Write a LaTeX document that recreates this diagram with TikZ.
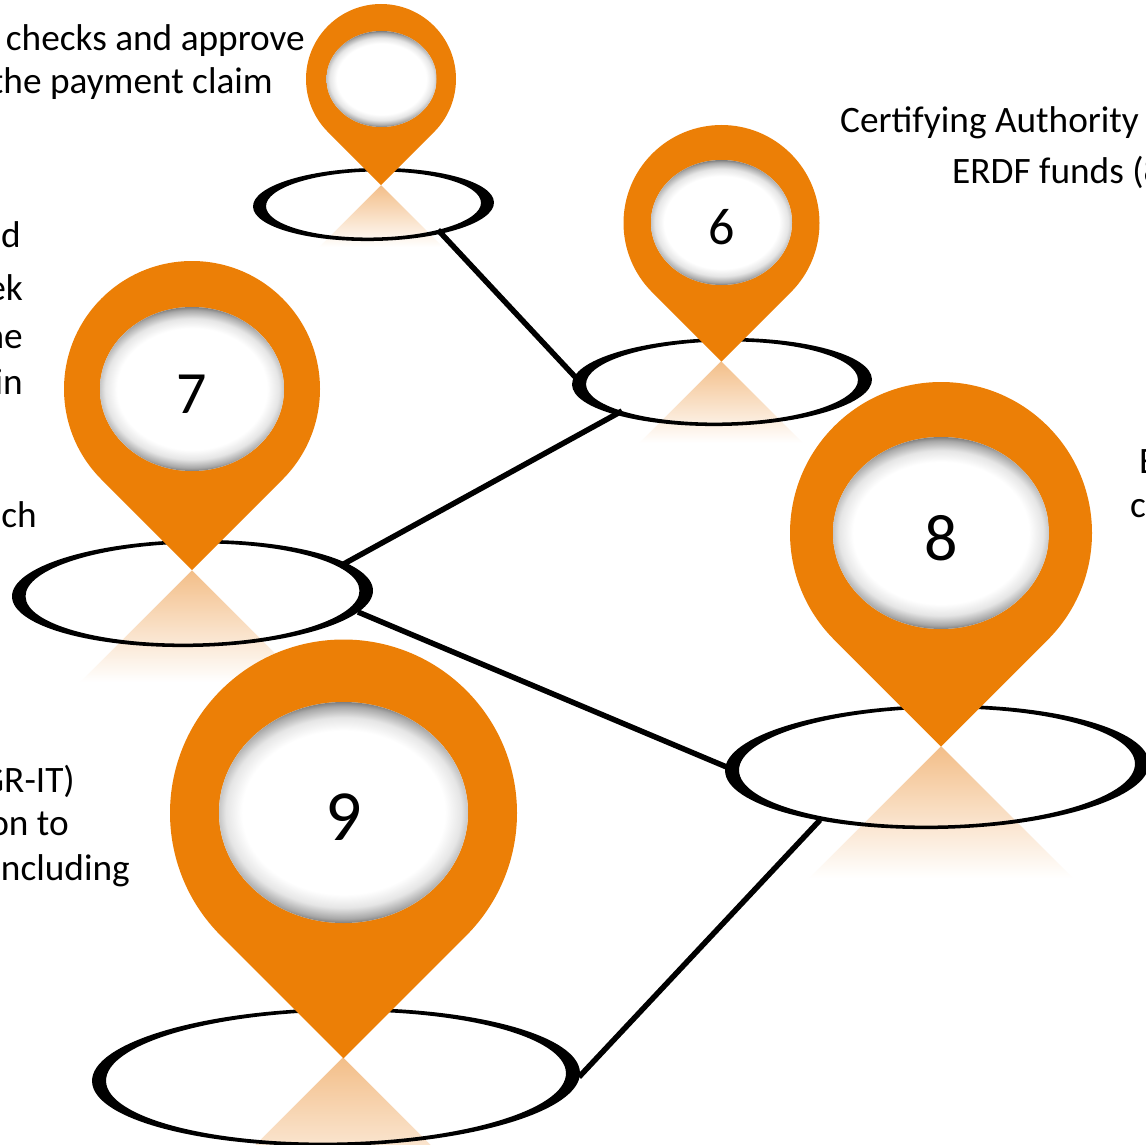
\documentclass[tikz,border=0pt]{standalone}
\usepackage{fontspec}
\setmainfont{Carlito}
\usetikzlibrary{shapes.geometric}
\definecolor{pinorange}{HTML}{EC7F06}
\definecolor{glow}{HTML}{F3BE88}
\pgfdeclareradialshading{holeshade}{\pgfpoint{0bp}{0bp}}{color(0bp)=(white); color(18.5bp)=(white); color(21.5bp)=(black!10); color(24bp)=(black!34); color(25bp)=(black!50); color(50bp)=(black!50)}
\tikzset{
  x=1pt,y=-1pt,
  caption/.style={font=\fontsize{37.3}{37.3}\selectfont,inner sep=0pt,text=black},
  link/.style={line width=5.5pt,black},
  ringbox/.style={shape=ellipse,inner sep=0pt,outer sep=0pt},
  pinnum/.style={inner sep=0pt,text=black},
}
% name, cx, cy, outer rx, ry, inner rx, ry
\newcommand{\ringmark}[7]{%
  \node[ringbox,minimum width=#4*2pt,minimum height=#5*2pt] (#1) at (#2,#3) {};
  \fill[black,even odd rule,rotate around={1:(#2,#3)}] (#2,#3) ellipse [x radius=#4pt,y radius=#5pt]
     (#2,#3) ellipse [x radius=#6pt,y radius=#7pt];
}
% tip x, tip y, height: a shaded box whose sides are masked to leave a 45-degree triangle
\newcommand{\glowmark}[3]{%
  \shade[top color=glow,bottom color=white] (#1-#3,#2) rectangle (#1+#3,#2+#3);
  \fill[white] (#1,#2) -- (#1-#3,#2+#3) -- (#1-#3-3,#2+#3) -- (#1-#3-3,#2-3) -- (#1,#2-3) -- cycle;
  \fill[white] (#1,#2) -- (#1+#3,#2+#3) -- (#1+#3+3,#2+#3) -- (#1+#3+3,#2-3) -- (#1,#2-3) -- cycle;
  \fill[white] (#1-#3-3,#2+#3-0.5) rectangle (#1+#3+3,#2+#3+3);
}
% name, cx, cy, R, hole cx, hole cy, hole rx, hole ry, number size
\newcommand{\pinmark}[9]{%
  \pgfmathsetmacro{\pinoff}{#4*0.70711}%
  \pgfmathsetmacro{\pintip}{#4*1.41421}%
  \pgfmathsetmacro{\holewide}{#7*1.1}%
  \fill[pinorange] (#2,#3+\pintip) -- (#2-\pinoff,#3+\pinoff)
     arc[start angle=225,end angle=-45,radius=#4pt] -- cycle;
  \begin{scope}
    \clip (#5,#6) ellipse [x radius=#7pt,y radius=#8pt];
    \fill[white] (#5-#7,#6-#8) rectangle (#5+#7,#6+#8);
    \shade[shading=holeshade] (#5,#6) ellipse [x radius=\holewide pt,y radius=#8pt];
  \end{scope}
  \node[pinnum,font=\fontsize{#9}{#9}\selectfont] (#1) at (#5,#6+5) {\pinlabel};
}
\begin{document}
\begin{tikzpicture}
\useasboundingbox (0,0) rectangle (1146,1145);
\clip (0,0) rectangle (1146,1145);
% glows
\glowmark{381}{185}{62}
\glowmark{721}{361}{82}
\glowmark{192}{570}{112}
\glowmark{941}{746}{132}
\glowmark{343}{1057}{150}
% rings
\ringmark{ringa}{373.5}{204.5}{120.5}{36.5}{107.5}{33}
\ringmark{ringb}{722}{382}{150}{44}{136}{40.5}
\ringmark{ringc}{192.5}{593.5}{180.5}{53.5}{167}{50}
\ringmark{ringd}{937}{767}{212}{62}{198}{58.5}
\ringmark{ringe}{336}{1077}{244}{69}{230}{65.5}
% connector ends
\coordinate (a1) at (438,230);
\coordinate (b1) at (578,380);
\coordinate (b2) at (622,411);
\coordinate (c1) at (340,566);
\coordinate (c2) at (358,612);
\coordinate (d1) at (729,768);
\coordinate (d2) at (820,820);
\coordinate (e1) at (579,1077);
\draw[link] (a1) -- (b1);
\draw[link] (b2) -- (c1);
\draw[link] (c2) -- (d1);
\draw[link] (d2) -- (e1);
% pins
\def\pinlabel{}
\pinmark{pina}{381}{79}{75}{381.5}{79}{55}{48}{10}
\def\pinlabel{6}
\pinmark{pinb}{721.5}{223}{98}{721.5}{222.5}{70.5}{62.5}{52}
\def\pinlabel{7}
\pinmark{pinc}{192}{389}{128}{192}{389}{92}{82}{60}
\def\pinlabel{8}
\pinmark{pind}{941}{533}{151}{941}{533}{108}{96}{66}
\def\pinlabel{9}
\pinmark{pine}{343.5}{813}{173.5}{343.5}{812.5}{124.5}{110.5}{72}
% captions
\node[caption,anchor=base east] (ta) at (305,51) {checks and approve};
\node[caption,anchor=base east] (tb) at (273,94) {the payment claim};
\node[caption,anchor=base west] (tc) at (840,133) {Certifying Authority};
\node[caption,anchor=base west] (td) at (952,183) {ERDF funds (8};
\node[caption,anchor=base east] (te) at (21,247) {ed};
\node[caption,anchor=base east] (tf) at (23,300) {ek};
\node[caption,anchor=base east] (tg) at (23,348) {ne};
\node[caption,anchor=base east] (th) at (23,394) {in};
\node[caption,anchor=base east] (ti) at (37,527) {ch};
\node[caption,anchor=base west] (tj) at (1139,473) {E};
\node[caption,anchor=base west] (tk) at (1130,517) {c};
\node[caption,anchor=base east] (tl) at (75,792) {GR-IT)};
\node[caption,anchor=base east] (tm) at (69,835) {on to};
\node[caption,anchor=base east] (tn) at (130,880) {ncluding};
\end{tikzpicture}
\end{document}
